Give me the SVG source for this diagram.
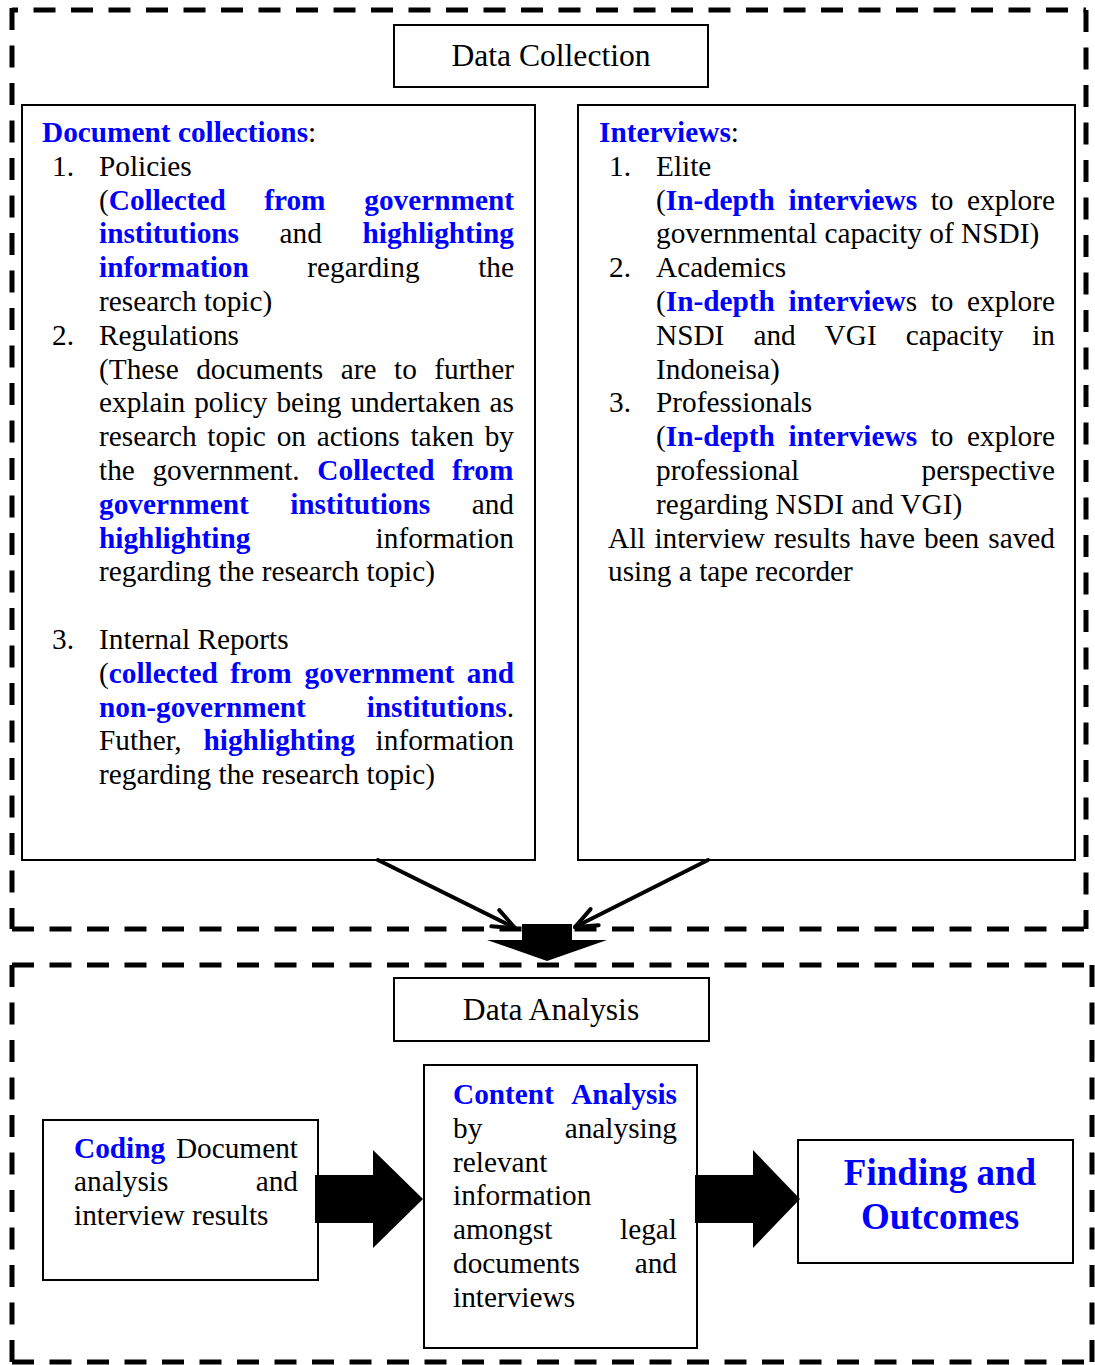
<svg xmlns="http://www.w3.org/2000/svg" width="1095" height="1365" viewBox="0 0 1095 1365">
  <style>
    .t { font-family: "Liberation Serif", "Times New Roman", serif; font-size: 29.3px; fill: #000; }
    .b { font-weight: bold; fill: #0000FF; }
    .h { font-size: 31.6px; text-anchor: middle; }
    .big { font-size: 37px; text-anchor: middle; }
    .box { fill: #fff; stroke: #000; stroke-width: 2; }
    .frame { fill: none; stroke: #000; stroke-width: 5; stroke-dasharray: 22 15.5; }
    .link { fill: none; stroke: #000; stroke-width: 4; stroke-linecap: round; }
    .block { fill: #000; stroke: none; }
  </style>
  <defs>
    <marker id="open" markerUnits="userSpaceOnUse" markerWidth="40" markerHeight="40" viewBox="-30 -20 40 40" refX="0" refY="0" orient="auto">
      <path d="M-22,-9 L0,0 L-22,9" fill="none" stroke="#000" stroke-width="4" stroke-linecap="round" stroke-linejoin="round"/>
    </marker>
  </defs>
  <rect width="1095" height="1365" fill="#fff"/>

  <!-- dashed stage frames -->
  <g id="frames">
    <path class="frame" d="M12,10 H1086" stroke-dashoffset="16"/>
    <path class="frame" d="M12,8 V929"/>
    <path class="frame" d="M1086,10 V929"/>
    <path class="frame" d="M12,929 H1086"/>
    <path class="frame" d="M12,965 H1092"/>
    <path class="frame" d="M12,965 V1362"/>
    <path class="frame" d="M1092,965 V1362"/>
    <path class="frame" d="M12,1362 H1092"/>
  </g>

  <g id="data-collection">
    <rect class="box" x="394" y="25" width="314" height="62"/>
    <text class="t h" x="551" y="66">Data Collection</text>
  </g>

  <g id="document-collections">
    <rect class="box" x="22" y="105" width="513" height="755"/>
    <text class="t">
      <tspan x="42" y="142" class="b">Document collections</tspan><tspan>:</tspan>
      <tspan x="52" y="175.8">1.</tspan><tspan x="99" y="175.8">Policies</tspan>
      <tspan x="99" y="209.6">(</tspan><tspan class="b">Collected</tspan><tspan x="264.2" y="209.6" class="b">from</tspan><tspan x="364.3" y="209.6" class="b">government</tspan>
      <tspan x="99" y="243.4" class="b">institutions</tspan><tspan x="279.6" y="243.4">and</tspan><tspan x="362.5" y="243.4" class="b">highlighting</tspan>
      <tspan x="99" y="277.2" class="b">information</tspan><tspan x="307.3" y="277.2">regarding</tspan><tspan x="478.2" y="277.2">the</tspan>
      <tspan x="99" y="311">research topic)</tspan>
      <tspan x="52" y="344.8">2.</tspan><tspan x="99" y="344.8">Regulations</tspan>
      <tspan x="99" y="378.6">(These</tspan><tspan x="196.2" y="378.6">documents</tspan><tspan x="340.7" y="378.6">are</tspan><tspan x="394" y="378.6">to</tspan><tspan x="434.3" y="378.6">further</tspan>
      <tspan x="99" y="412.4">explain</tspan><tspan x="194.2" y="412.4">policy</tspan><tspan x="276.4" y="412.4">being</tspan><tspan x="350.4" y="412.4">undertaken</tspan><tspan x="489.5" y="412.4">as</tspan>
      <tspan x="99" y="446.2">research</tspan><tspan x="207.3" y="446.2">topic</tspan><tspan x="276.7" y="446.2">on</tspan><tspan x="316.7" y="446.2">actions</tspan><tspan x="410.4" y="446.2">taken</tspan><tspan x="484.7" y="446.2">by</tspan>
      <tspan x="99" y="480">the</tspan><tspan x="152.4" y="480">government.</tspan><tspan x="317.3" y="480" class="b">Collected</tspan><tspan x="452.1" y="480" class="b">from</tspan>
      <tspan x="99" y="513.8" class="b">government</tspan><tspan x="290.2" y="513.8" class="b">institutions</tspan><tspan x="471.7" y="513.8">and</tspan>
      <tspan x="99" y="547.6" class="b">highlighting</tspan><tspan x="375.6" y="547.6">information</tspan>
      <tspan x="99" y="581.4">regarding the research topic)</tspan>
      <tspan x="52" y="649">3.</tspan><tspan x="99" y="649">Internal Reports</tspan>
      <tspan x="99" y="682.8">(</tspan><tspan class="b">collected</tspan><tspan x="230.3" y="682.8" class="b">from</tspan><tspan x="304.6" y="682.8" class="b">government</tspan><tspan x="466.8" y="682.8" class="b">and</tspan>
      <tspan x="99" y="716.6" class="b">non-government</tspan><tspan x="366.7" y="716.6" class="b">institutions</tspan><tspan>.</tspan>
      <tspan x="99" y="750.4">Futher,</tspan><tspan x="203.5" y="750.4" class="b">highlighting</tspan><tspan x="375.6" y="750.4">information</tspan>
      <tspan x="99" y="784.2">regarding the research topic)</tspan>
    </text>
  </g>

  <g id="interviews">
    <rect class="box" x="578" y="105" width="497" height="755"/>
    <text class="t">
      <tspan x="599" y="142" class="b">Interviews</tspan><tspan>:</tspan>
      <tspan x="609" y="175.8">1.</tspan><tspan x="656" y="175.8">Elite</tspan>
      <tspan x="656" y="209.6">(</tspan><tspan class="b">In-depth</tspan><tspan x="788.5" y="209.6" class="b">interviews</tspan><tspan x="930.7" y="209.6">to</tspan><tspan x="967.1" y="209.6">explore</tspan>
      <tspan x="656" y="243.4">governmental capacity of NSDI)</tspan>
      <tspan x="609" y="277.2">2.</tspan><tspan x="656" y="277.2">Academics</tspan>
      <tspan x="656" y="311">(</tspan><tspan class="b">In-depth</tspan><tspan x="788.5" y="311" class="b">interview</tspan><tspan>s</tspan><tspan x="930.7" y="311">to</tspan><tspan x="967.1" y="311">explore</tspan>
      <tspan x="656" y="344.8">NSDI</tspan><tspan x="753.4" y="344.8">and</tspan><tspan x="824.6" y="344.8">VGI</tspan><tspan x="905.7" y="344.8">capacity</tspan><tspan x="1032.2" y="344.8">in</tspan>
      <tspan x="656" y="378.6">Indoneisa)</tspan>
      <tspan x="609" y="412.4">3.</tspan><tspan x="656" y="412.4">Professionals</tspan>
      <tspan x="656" y="446.2">(</tspan><tspan class="b">In-depth</tspan><tspan x="788.5" y="446.2" class="b">interviews</tspan><tspan x="930.7" y="446.2">to</tspan><tspan x="967.1" y="446.2">explore</tspan>
      <tspan x="656" y="480">professional</tspan><tspan x="921.6" y="480">perspective</tspan>
      <tspan x="656" y="513.8">regarding NSDI and VGI)</tspan>
      <tspan x="608" y="547.6">All</tspan><tspan x="654.4" y="547.6">interview</tspan><tspan x="774.1" y="547.6">results</tspan><tspan x="859.6" y="547.6">have</tspan><tspan x="923.9" y="547.6">been</tspan><tspan x="988.3" y="547.6">saved</tspan>
      <tspan x="608" y="581.4">using a tape recorder</tspan>
    </text>
  </g>

  <g id="data-analysis">
    <rect class="box" x="394" y="978" width="315" height="63"/>
    <text class="t h" x="551" y="1020">Data Analysis</text>
  </g>

  <g id="coding">
    <rect class="box" x="43" y="1120" width="275" height="160"/>
    <text class="t">
      <tspan x="74" y="1157.5" class="b">Coding</tspan><tspan x="175.9" y="1157.5">Document</tspan>
      <tspan x="74" y="1191.3">analysis</tspan><tspan x="255.7" y="1191.3">and</tspan>
      <tspan x="74" y="1225.1">interview results</tspan>
    </text>
  </g>

  <g id="content-analysis">
    <rect class="box" x="424" y="1065" width="273" height="283"/>
    <text class="t">
      <tspan x="453" y="1104" class="b">Content</tspan><tspan x="571.2" y="1104" class="b">Analysis</tspan>
      <tspan x="453" y="1137.8">by</tspan><tspan x="564.7" y="1137.8">analysing</tspan>
      <tspan x="453" y="1171.6">relevant</tspan>
      <tspan x="453" y="1205.4">information</tspan>
      <tspan x="453" y="1239.2">amongst</tspan><tspan x="620" y="1239.2">legal</tspan>
      <tspan x="453" y="1273">documents</tspan><tspan x="634.7" y="1273">and</tspan>
      <tspan x="453" y="1306.8">interviews</tspan>
    </text>
  </g>

  <g id="finding-outcomes">
    <rect class="box" x="798" y="1140" width="275" height="123" stroke-width="2.5"/>
    <text class="t b big" x="940" y="1185">Finding and</text>
    <text class="t b big" x="940" y="1229">Outcomes</text>
  </g>

  <g id="connectors">
    <path class="link" d="M378,860 L515,928" marker-end="url(#open)"/>
    <path class="link" d="M708,860 L575,927" marker-end="url(#open)"/>
    <polygon class="block" points="522,924 572,924 572,940 607,940 547,961 487,940 522,940"/>
    <polygon class="block" points="315,1175 373,1175 373,1150 423,1199 373,1248 373,1223 315,1223"/>
    <polygon class="block" points="695,1175 753,1175 753,1150 800,1199 753,1248 753,1223 695,1223"/>
  </g>
</svg>
